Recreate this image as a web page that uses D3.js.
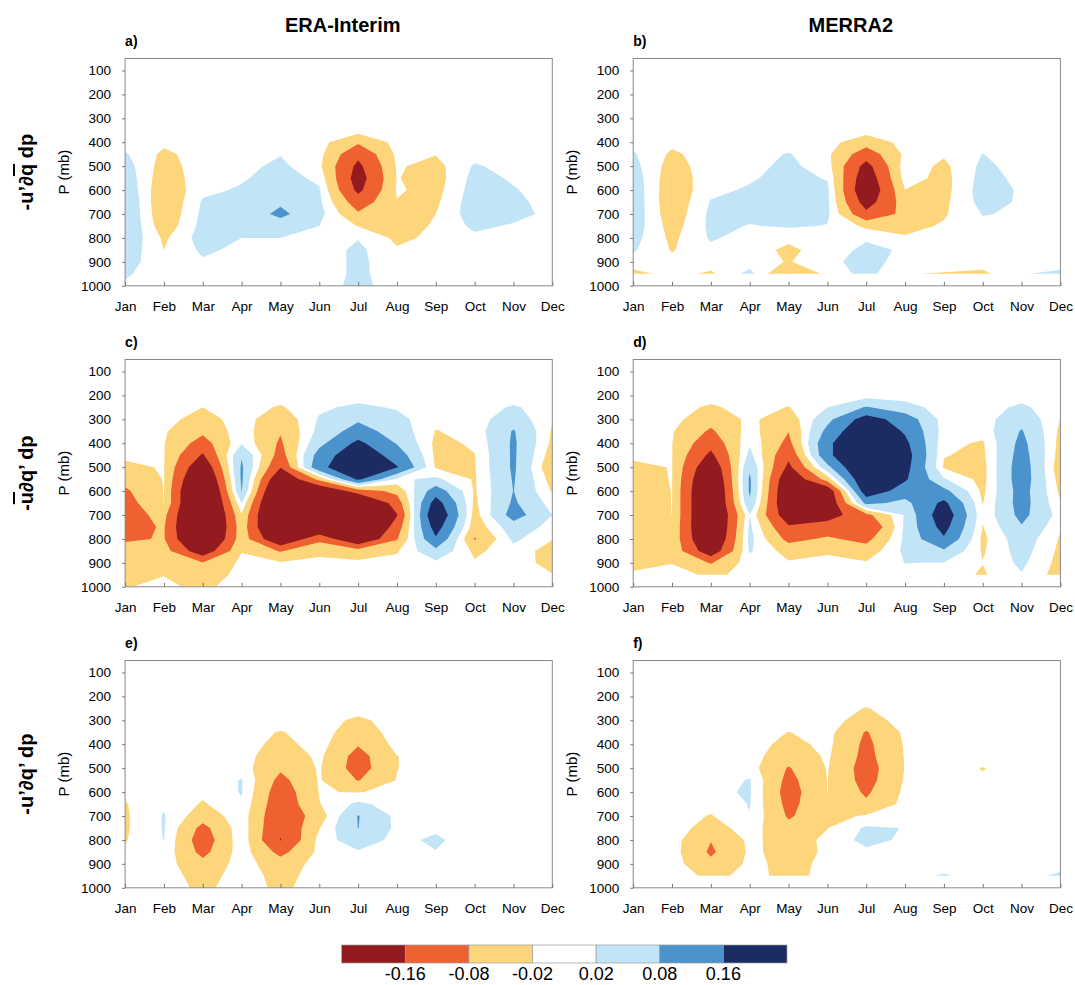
<!DOCTYPE html>
<html>
<head>
<meta charset="utf-8">
<script src="https://cdn.jsdelivr.net/npm/d3@7"></script>
<style>
  body { margin: 0; background: #fff; }
  text { font-family: "Liberation Sans", Arial, Helvetica, sans-serif; fill: #000; }
</style>
</head>
<body>
<svg id="chart" width="1075" height="985"></svg>
<script>
// values below are in units of 0.01, rows = pressure levels 100..1000 mb (step 50), columns = Jan..Dec
const UNIT = 0.01;
const months = ["Jan", "Feb", "Mar", "Apr", "May", "Jun", "Jul", "Aug", "Sep", "Oct", "Nov", "Dec"];
const levels = d3.range(100, 1001, 50);
const pTicks = d3.range(100, 1001, 100);
const thresholds = [-0.16, -0.08, -0.02, 0.02, 0.08, 0.16];
const colors = ["#931a1e", "#ef6130", "#fdd67b", "#ffffff", "#c1e5f7", "#4b93cc", "#1c2b61"];
const columnTitles = ["ERA-Interim", "MERRA2"];
const panelLabels = ["a)", "b)", "c)", "d)", "e)", "f)"];

const Z = [0, 0, 0, 0, 0, 0, 0, 0, 0, 0, 0, 0];
const N = [null, null, null, null, null, null, null, null, null, null, null, null];

// -u'dq(bar) dp
const eraMeanQ = [
  Z, Z, Z, Z, Z, Z,
  [.5, -1, 0, 0, 0, -.3, -7, -.4, 0, 0, 0, 0],
  [2.5, -3, 0, .3, 1.8, -.5, -14, -1, -1.8, .5, 0, 0],
  [4, -4, .3, .8, 3, -1, -18, -1.5, -3.5, 2.5, .5, 0],
  [5, -5, .6, 1.5, 4, 1, -20, -1.8, -4, 3.5, 1.5, 0],
  [6, -6, 1, 2.5, 5, 2.5, -18, -1.5, -3.5, 4, 2.3, .3],
  [7, -6.5, 2.5, 3.5, 7, 3, -12, -2.2, -2.8, 4.5, 3, .5],
  [7, -6, 3, 4, 9.5, 3.5, -7, -4, -2, 4.5, 3.5, .8],
  [7, -5, 3.5, 3, 5, 2, -2.2, -4, -1.5, 3, 1.5, .5],
  [6, -2.8, 4, 2, 2, .5, 1.8, -3, -1, 1, .5, 0],
  [5, -2, 2.8, 1, .5, -.3, 3, -1.5, -.5, 0, 0, 0],
  [4, -1, 1.5, .5, 0, -.3, 3, -.5, 0, 0, 0, 0],
  [2.5, 0, .5, 0, 0, -.3, 3, -.3, 0, 0, 0, 0],
  [1.5, 0, 0, 0, -2.1, -.3, 3.5, -.3, 0, 0, 0, 0]
];
const merraMeanQ = [
  Z, Z, Z, Z, Z, Z,
  [1, -1, 0, 0, 0, -.4, -5, -.5, 0, 0, 0, 0],
  [2.5, -2.8, 0, .3, 2.3, -1, -12, -1, -1.5, 2.1, 0, 0],
  [3.5, -4, .3, .8, 3, 0, -19, .5, -3, 3, .3, 0],
  [4.5, -5, .6, 1.5, 3.5, 1.7, -22, 0, -3.5, 3.5, 1, 0],
  [5, -5.5, 1, 2.5, 4, 3, -24, -2.1, -3.5, 4, 1.5, 0],
  [5, -5.5, 2.3, 3, 4, 3, -20, -4.5, -3, 3.5, 1.5, 0],
  [5, -5, 3, 3, 3.5, 3, -14, -6, -2.5, 2.2, 1.5, 0],
  [4.5, -4, 3, 1.8, 2.5, 1.8, -3, -3.5, -1.5, 1, 1, 0],
  [3.5, -3, 2.5, .5, -1, .5, 1.5, -1.5, -.5, 0, 0, 0],
  [2.5, -2.3, 1, 0, -3, 0, 3, 1.5, 0, 0, 0, 0],
  [.5, -1, 0, 0, -2.3, 1, 3.5, .5, 0, 0, 0, 0],
  [-3.5, -.5, -2.8, 3.5, -8.2, -.7, 3.5, -1.8, -2.3, -3, 1.7, 3],
  N
];

// -u(bar)dq' dp
const eraMeanU = [
  Z, Z, Z,
  [0, 0, -2, 0, -2.5, 1.2, 3, 1.5, 0, 0, 2.5, 0],
  [0, -.5, -4, 0, -5.5, 2.5, 7, 3.5, -1, 0, 5, -1.8],
  [0, -1.5, -6.5, .5, -7.5, 3.5, 11, 5, -2.2, -.5, 8.5, -2.5],
  [0, -1.8, -11, 1.5, -9, 6, 18, 7.5, -3, -1.5, 9, -3],
  [-1.5, -1.8, -17, 7.5, -11, 11, 23, 12, -3, -2.1, 9, -4.5],
  [-2.6, -1.8, -24, 9, -15.5, 14, 23, 16.5, -2.5, -2.3, 9, -6.3],
  [-6, -1.8, -30, 9, -25, -6, 17.5, 1.2, 3, -2.5, 8.5, -4],
  [-9, -1.9, -35, 8.2, -32, -25, -12, -6, 12, -2.5, 8.1, -2.5],
  [-11, -1.95, -35, 2.2, -35, -30, -30, -12, 20, -3, 9, 0],
  [-11, -6, -35, -2.5, -35, -33, -35, -16.5, 25, -4, 11, 2],
  [-10, -7.5, -35, -4, -33, -26, -33, -12, 20, -5, 5, .5],
  [-9, -7.5, -32, -4, -25, -10, -25, -8.5, 15, -8.5, 3, -1.8],
  [-5, -5, -22, -2.2, -8.5, -3, -5, -2.5, 6, -3, .5, -4],
  [-4, -3.5, -7.5, -1, -1.5, -1, -1, -.5, 1, -1.5, 0, -3.5],
  [-3, -2.1, -5, -.5, 0, 0, 0, 0, 0, 0, 0, -1.8],
  [-2.2, -1.2, -3, 0, 0, 0, 0, 0, 0, 0, 0, -1]
];
const merraMeanU = [
  Z, Z, Z,
  [0, 0, -2.8, 0, -2.2, 2, 8.5, 4, 0, 0, 3, -1],
  [0, -.5, -5.5, -1, -5, 6, 20, 12, 0, 0, 6, -2.1],
  [0, -1.6, -9, 0, -7.8, 10, 25, 15, 0, -.5, 8.5, -3],
  [-.5, -1.9, -13, 1.5, -10, 14, 28, 18, -1, -2.5, 10, -3.5],
  [-1.5, -1.9, -18, 3.5, -14, 14, 28, 20, -1.8, -3, 11, -4],
  [-2.6, -1.9, -24, 7, -18, 6, 28, 19, -2.5, -3.5, 12, -5],
  [-3, -1.9, -28, 9, -24, -5, 25, 17, 2.5, -3.5, 12, -4],
  [-3.5, -1.95, -30, 9, -26, -23, 22, 12, 10, -3, 11, -3],
  [-4, -1.95, -30, 7, -26, -24, 10, 6, 18, -2.2, 11, -1.8],
  [-4, -1.98, -30, 1.9, -22, -20, -10, 2.5, 22, -1.5, 10, 0],
  [-4, -2.5, -30, 3, -15, -12, -16.1, 3, 19, -2.2, 7.5, -1.5],
  [-4, -3, -28, 3.5, -10, -7, -10, 3, 15, -3, 5, -2.5],
  [-3.5, -3, -22, 2.5, -4, -2.5, -5, 3, 7, -2.5, 4, -3],
  [-3, -2.1, -8.5, .5, -1.5, -1, -1.5, 2.1, 1.8, -1.9, 3, -3.5],
  [-1.5, -1, -2.5, -1.3, -.5, 0, 0, .5, 0, -2.5, 1.7, -4],
  N
];

// -u'dq' dp
const eraEddy = [
  Z, Z, Z, Z,
  [0, 0, 0, 0, 0, 0, -3, 0, 0, 0, 0, 0],
  [0, 0, 0, 0, -2.3, 0, -5, 0, 0, 0, 0, 0],
  [0, 0, 0, 0, -3.5, -.2, -7.5, -.5, 0, 0, 0, 0],
  [0, 0, 0, 0, -5.5, -1, -10.5, -2.1, 0, 0, 0, 0],
  [0, 0, 0, 0, -7, -1.5, -11, -2.1, 0, 0, 0, 0],
  [0, 0, -1, 2.3, -10, -1.6, -8.3, -1.8, 0, 0, 0, 0],
  [-1.2, 0, -1, 2.3, -12, -1.8, -2.2, -1, 0, 0, 0, 0],
  [-2.3, 1.5, -2.5, 1.5, -13, -2.2, 3, 0, 0, 0, 0, 0],
  [-2.6, 2.3, -5, .5, -14, -4.6, 8.3, .8, 0, 0, 0, 0],
  [-2.6, 2.3, -10, .8, -15, -2.2, 8.1, .9, 1, 0, 0, 0],
  [-2.3, 2.1, -12, 1, -16.3, -.5, 5, .5, 3, -1, 0, 0],
  [-1.5, 1, -10, .5, -10, -.8, 1.5, 0, 1.8, 0, 0, 0],
  [-1, 0, -6, 0, -5, -.3, .5, 0, 0, 0, 0, 0],
  [-.5, 0, -4, 0, -3.5, -.3, 0, 0, 0, 0, 0, 0],
  [0, 0, -3, 0, -3, 0, 0, 0, 0, 0, 0, 0]
];
const merraEddy = [
  Z, Z, Z,
  [0, 0, 0, 0, 0, 0, -2.2, 0, 0, 0, 0, 0],
  [0, 0, 0, 0, 0, -.3, -4, -.3, 0, 0, 0, 0],
  [0, 0, 0, 0, -2.1, -.5, -8.5, -1, 0, 0, 0, 0],
  [0, 0, 0, 0, -3.5, -.8, -9.5, -1.5, 0, 0, 0, 0],
  [0, 0, 0, 0, -5.5, -1.3, -10, -1.7, 0, 0, 0, 0],
  [0, 0, 0, 0, -8.5, -1.7, -11, -1.8, 0, -2.2, 0, 0],
  [0, 0, 0, 2.3, -10, -1.9, -10.5, -1.5, 0, -1.5, 0, 0],
  [0, 0, 1, 2.5, -11, -1.95, -9, -1, 0, 0, 0, 0],
  [0, 0, -.5, 2.2, -10, -2.8, -7, -.5, 0, 0, 0, 0],
  [0, 0, -2.3, 1.9, -8.8, -3.5, -1.5, .5, 0, 0, 0, 0],
  [0, 0, -4, 0, -6, -2.1, 2.6, 1.9, 0, 0, 0, 0],
  [0, 0, -7.8, -1, -4, -1.2, 3.5, 1.2, 0, 0, 0, 0],
  [0, 0, -9, -1.2, -3.5, -1.5, 1, 0, 0, 0, 0, 0],
  [0, 0, -6.5, -1, -3.2, -1.2, 0, 0, 0, 0, 0, 0],
  [0, 0, -3, -1, -3, -1.1, 0, 0, 2.5, 0, 0, 3],
  N
];

const panels = [eraMeanQ, merraMeanQ, eraMeanU, merraMeanU, eraEddy, merraEddy];

// row labels, pieces flagged true get an overbar
const rowLabels = [
  [["-u\u2019\u2202", false], ["q", true], [" dp", false]],
  [["-", false], ["u", true], ["\u2202q\u2019 dp", false]],
  [["-u\u2019\u2202q\u2019 dp", false]]
];

// layout
const colX = [125.1, 633.2];
const rowY = [58.5, 359.5, 660.5];
const plotW = 427.2, plotH = 227.3;

const svg = d3.select("#chart");

function bandShapes(grid) {
  const nx = grid[0].length, ny = grid.length;
  const pos = [], neg = [];
  grid.forEach(row => row.forEach(v => {
    if (v == null) { pos.push(-1000); neg.push(-1000); }
    else { pos.push(v * UNIT); neg.push(-v * UNIT); }
  }));
  const gen = d3.contours().size([nx, ny]).smooth(true);
  const out = [];
  // negative side: -v >= 0.02, 0.08, 0.16
  [2, 1, 0].forEach(i => out.push({ geom: gen.contour(neg, -thresholds[i]), color: colors[i] }));
  // positive side
  [3, 4, 5].forEach(i => out.push({ geom: gen.contour(pos, thresholds[i]), color: colors[i + 1] }));
  return out;
}

panels.forEach((grid, k) => {
  const col = k % 2, row = Math.floor(k / 2);
  const x0 = colX[col], y0 = rowY[row];
  const x = d3.scaleLinear().domain([1, 12]).range([x0, x0 + plotW]);
  const y = d3.scaleLinear().domain([50, 1000]).range([y0, y0 + plotH]);
  const step = levels[1] - levels[0];

  const clipId = "clip" + k;
  svg.append("clipPath").attr("id", clipId)
    .append("rect").attr("x", x0).attr("y", y0).attr("width", plotW).attr("height", plotH);

  const proj = d3.geoTransform({
    point(gx, gy) { this.stream.point(x(gx + 0.5), y(levels[0] - step / 2 + step * gy)); }
  });
  const path = d3.geoPath(proj);

  svg.append("g").attr("clip-path", `url(#${clipId})`)
    .selectAll("path")
    .data(bandShapes(grid))
    .join("path")
    .attr("d", d => path(d.geom))
    .attr("fill", d => d.color);

  // frame
  svg.append("rect")
    .attr("x", x0).attr("y", y0).attr("width", plotW).attr("height", plotH)
    .attr("fill", "none").attr("stroke", "#8a8a8a").attr("stroke-width", 1);

  const yAxis = svg.append("g").attr("transform", `translate(${x0},0)`)
    .call(d3.axisLeft(y).tickValues(pTicks).tickFormat(d3.format("d")).tickSize(3).tickPadding(11));
  const xAxis = svg.append("g").attr("transform", `translate(0,${y0 + plotH})`)
    .call(d3.axisBottom(x).tickValues(d3.range(1, 13)).tickFormat(i => months[i - 1])
      .tickSize(-4).tickPadding(16));
  [yAxis, xAxis].forEach(a => {
    a.select(".domain").remove();
    a.selectAll("line").attr("stroke", "#777");
    a.selectAll("text").attr("font-size", 13.5).attr("fill", "#000")
      .attr("font-family", '"Liberation Sans", Arial, sans-serif');
    a.attr("font-family", null).attr("font-size", null);
  });

  svg.append("text")
    .attr("transform", `translate(${x0 - 62},${y0 + plotH / 2}) rotate(-90)`)
    .attr("text-anchor", "middle").attr("dominant-baseline", "central")
    .attr("font-size", 15).text("P (mb)");

  svg.append("text")
    .attr("x", x0).attr("y", y0 - 12.5)
    .attr("font-size", 14).attr("font-weight", "bold")
    .text(panelLabels[k]);

  if (row === 0) {
    svg.append("text")
      .attr("x", x0 + plotW / 2 + 4).attr("y", 31.5)
      .attr("text-anchor", "middle").attr("font-size", 20).attr("font-weight", "bold")
      .text(columnTitles[col]);
  }

  if (col === 0) {
    const t = svg.append("text")
      .attr("transform", `translate(26,${y0 + plotH / 2}) rotate(-90)`)
      .attr("text-anchor", "middle").attr("dominant-baseline", "central")
      .attr("font-size", 20).attr("font-weight", "bold");
    rowLabels[row].forEach(([s, bar]) => {
      t.append("tspan").text(s).style("text-decoration", bar ? "overline" : null);
    });
  }
});

// colour bar
const cb = d3.scaleLinear().domain([0, colors.length]).range([341.7, 787]);
svg.append("g").selectAll("rect")
  .data(colors)
  .join("rect")
  .attr("x", (d, i) => cb(i)).attr("y", 945)
  .attr("width", cb(1) - cb(0)).attr("height", 18)
  .attr("fill", d => d).attr("stroke", "#9a9a9a").attr("stroke-width", 0.7);
svg.append("g").selectAll("text")
  .data(thresholds)
  .join("text")
  .attr("x", (d, i) => cb(i + 1)).attr("y", 980)
  .attr("text-anchor", "middle").attr("font-size", 18)
  .text(d => d.toFixed(2));
</script>
</body>
</html>
